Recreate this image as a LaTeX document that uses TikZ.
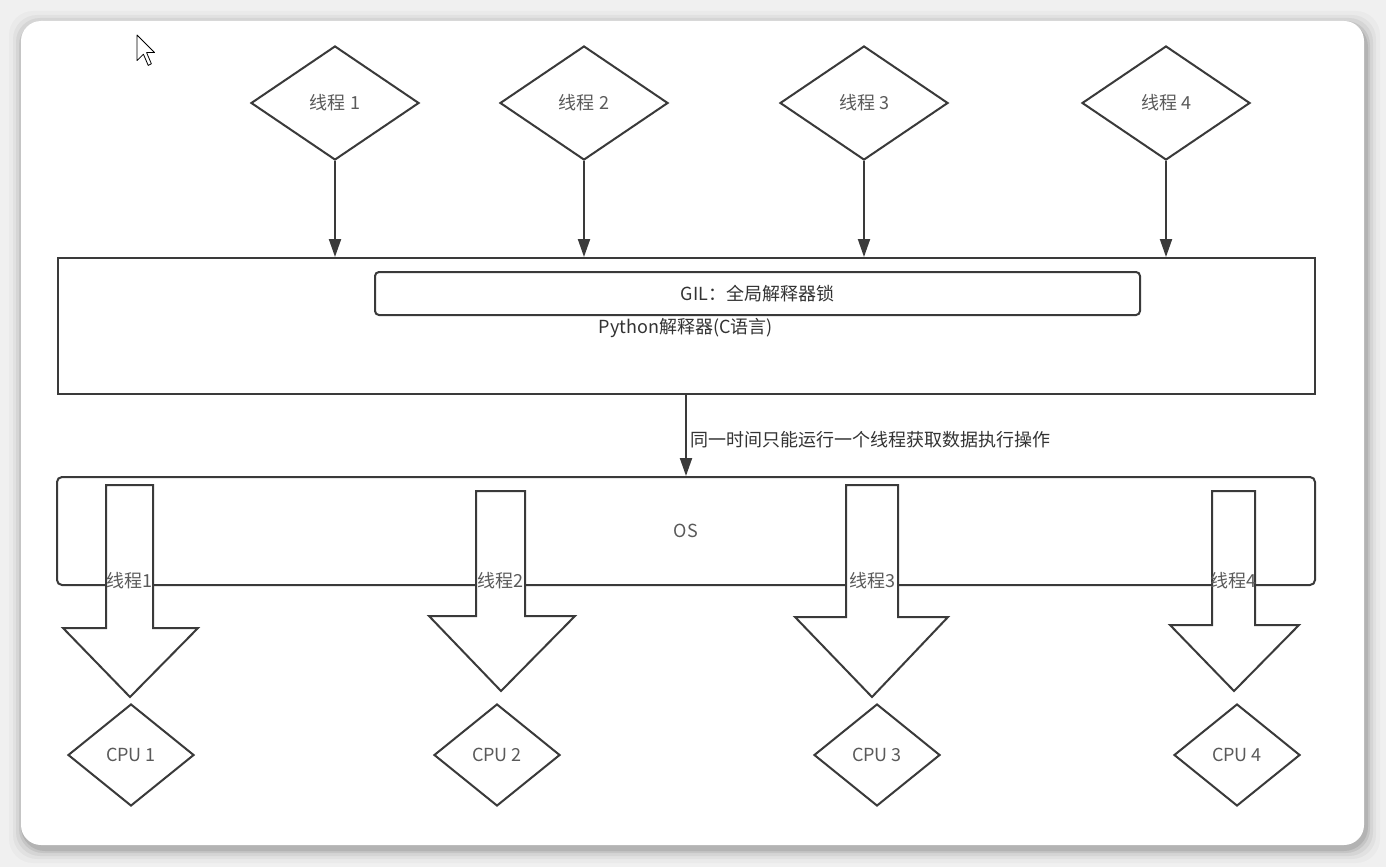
\documentclass[tikz,border=0pt]{standalone}
\usepackage{fontspec}
\setmainfont{Noto Sans CJK SC}
\usetikzlibrary{shapes.geometric,arrows.meta}
\definecolor{ln}{HTML}{3A3A3A}
\definecolor{tx}{HTML}{5A5A5A}
\definecolor{txd}{HTML}{333333}
\definecolor{bgc}{HTML}{F0F0F0}
\newcommand\fsz{\fontsize{18}{21}\selectfont}
\begin{document}
\begin{tikzpicture}[x=1pt,y=-1pt,
  thr/.style={diamond, draw=ln, line width=2pt, fill=white, minimum width=168pt, minimum height=114pt, inner sep=0pt, font=\fsz, text=tx},
  cpu/.style={diamond, draw=ln, line width=2pt, fill=white, minimum width=126pt, minimum height=102pt, inner sep=0pt, font=\fsz, text=tx},
  arr/.style={draw=ln, line width=2pt, -{Triangle[length=18pt,width=12pt]}},
  blk/.style={draw=ln, line width=2pt, fill=white, line join=miter},
  lab/.style={font=\fsz, text=tx, inner sep=1pt}]
\useasboundingbox (0,0) rectangle (1386,867);
\fill[bgc] (0,0) rectangle (1386,867);
% card shadow
\foreach \i/\o in {14/0.025, 10/0.035, 7/0.05, 4/0.07, 2/0.09}
  \fill[black, opacity=\o, rounded corners=24pt] (21-\i+2,21-\i+4) rectangle (1364+\i+2,845+\i+4);
\fill[white, rounded corners=20pt] (21,21) rectangle (1364,845);
% cursor
\draw[black, fill=white, line width=0.8pt, line join=round]
  (137,35) -- ++(0,25.6) -- ++(6.4,-6.4) -- ++(4.8,11.2) -- ++(3.2,-1.6) -- ++(-4.8,-11.2) -- ++(8,0) -- cycle;
% top thread diamonds
\node[thr] (t1) at (335,103) {线程 1};
\node[thr] (t2) at (584,103) {线程 2};
\node[thr] (t3) at (864,103) {线程 3};
\node[thr] (t4) at (1166,103) {线程 4};
% python interpreter box
\node[draw=ln, line width=2pt, minimum width=1257pt, minimum height=136pt, inner sep=0pt] (py) at (686,326) {};
\node[draw=ln, line width=2pt, rounded corners=4pt, minimum width=765pt, minimum height=43pt, inner sep=0pt, font=\fsz, text=txd] (gil) at (757.5,293.5) {GIL：全局解释器锁};
\node[lab, text=txd] (pyt) at (686,328) {Python解释器(C语言)};
\foreach \k in {1,2,3,4}
  \draw[arr] (t\k.south) -- (t\k.south |- py.north);
% OS box
\node[draw=ln, line width=2pt, rounded corners=5pt, minimum width=1258pt, minimum height=108pt, inner sep=0pt, font=\fsz, text=tx] (os) at (686,531) {OS};
\draw[arr] (py.south) -- (os.north);
\node[lab, text=txd, anchor=west] (msg) at (689,440) {同一时间只能运行一个线程获取数据执行操作};
% block arrows
\foreach \n/\l/\r/\t/\b/\hl/\hr/\px/\py in {
   1/106/153/485/628/63/198/130/697,
   2/476/525/491/616/429/575/501/691,
   3/846/898/485/617/795/948/872/697,
   4/1212/1255/491/625/1170/1299/1234/691}{
  \draw[blk] (\l,\t) -- (\r,\t) -- (\r,\b) -- (\hr,\b) -- (\px,\py) -- (\hl,\b) -- (\l,\b) -- cycle;
  \node[lab] (bl\n) at ({(\l+\r)/2},581) {线程\n};
}
% CPU diamonds
\node[cpu] (c1) at (131,755) {CPU 1};
\node[cpu] (c2) at (497,755) {CPU 2};
\node[cpu] (c3) at (877,755) {CPU 3};
\node[cpu] (c4) at (1237,755) {CPU 4};
\end{tikzpicture}
\end{document}
